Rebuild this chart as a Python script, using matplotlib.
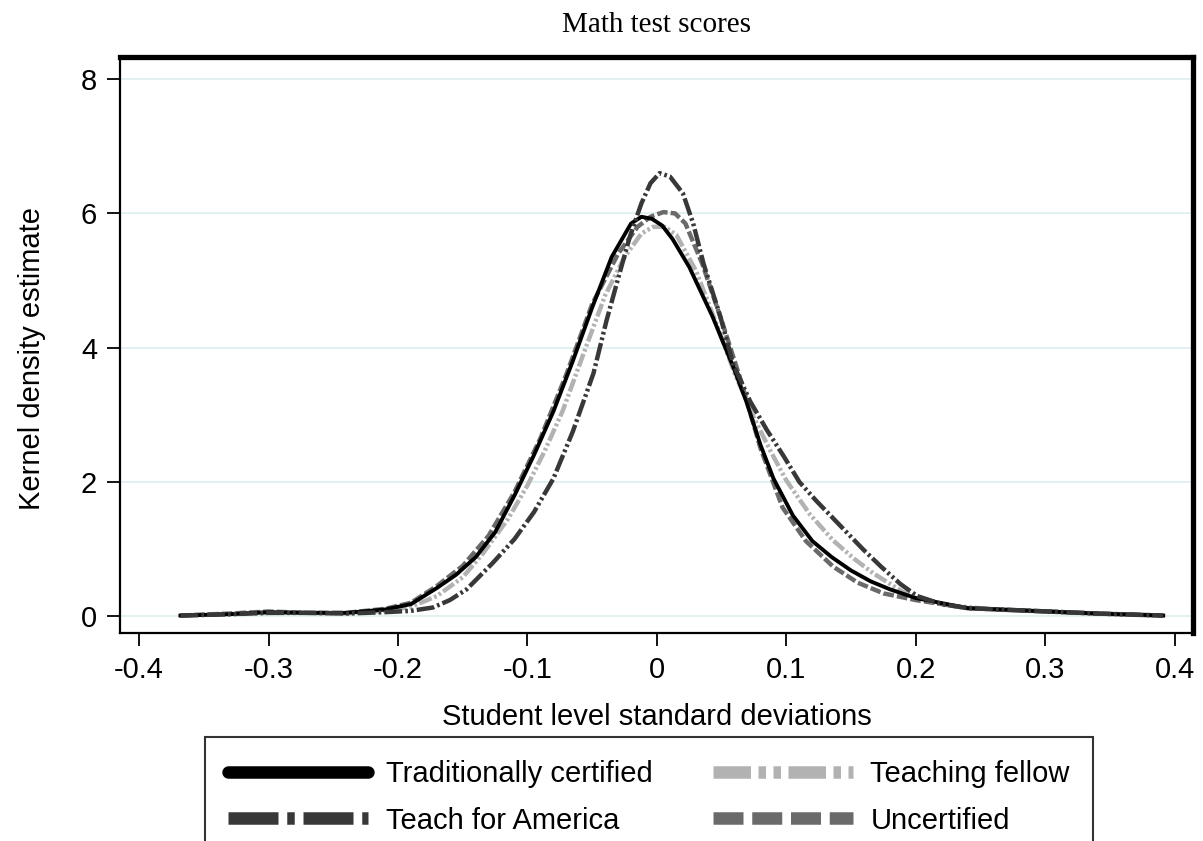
import matplotlib
matplotlib.use("Agg")
import matplotlib.pyplot as plt
from matplotlib.lines import Line2D

# kernel density curves
trad_x = [-0.368, -0.33, -0.30, -0.27, -0.24, -0.21, -0.19, -0.17, -0.155, -0.14, -0.125, -0.11,
          -0.095, -0.08, -0.065, -0.05, -0.035, -0.02, -0.012, -0.004, 0.004, 0.012, 0.025, 0.043,
          0.059, 0.069, 0.08, 0.09, 0.105, 0.12, 0.135, 0.15, 0.165, 0.18, 0.20, 0.24, 0.29, 0.34, 0.391]
trad_y = [0.01, 0.03, 0.06, 0.05, 0.05, 0.10, 0.18, 0.42, 0.62, 0.88, 1.25, 1.80,
          2.40, 3.05, 3.80, 4.60, 5.35, 5.85, 5.95, 5.92, 5.82, 5.62, 5.20, 4.46,
          3.71, 3.20, 2.55, 2.05, 1.50, 1.12, 0.88, 0.68, 0.52, 0.40, 0.27, 0.12, 0.08, 0.04, 0.01]

tfa_x = [-0.368, -0.33, -0.30, -0.27, -0.24, -0.21, -0.19, -0.173, -0.16, -0.147, -0.127, -0.11,
         -0.095, -0.08, -0.065, -0.049, -0.039, -0.029, -0.021, -0.012, -0.005, 0.002, 0.010, 0.020,
         0.028, 0.036, 0.049, 0.059, 0.072, 0.085, 0.098, 0.110, 0.123, 0.136, 0.148, 0.159, 0.173,
         0.188, 0.201, 0.22, 0.24, 0.29, 0.34, 0.391]
tfa_y = [0.01, 0.03, 0.05, 0.05, 0.04, 0.06, 0.08, 0.13, 0.24, 0.40, 0.79, 1.15,
         1.55, 2.05, 2.75, 3.62, 4.40, 5.10, 5.65, 6.15, 6.45, 6.60, 6.55, 6.30,
         5.85, 5.25, 4.46, 3.75, 3.20, 2.77, 2.38, 2.00, 1.72, 1.46, 1.22, 1.00, 0.74,
         0.48, 0.30, 0.18, 0.12, 0.08, 0.04, 0.01]

fellow_x = [-0.368, -0.33, -0.30, -0.27, -0.24, -0.21, -0.19, -0.17, -0.15, -0.135, -0.115, -0.1,
            -0.087, -0.073, -0.055, -0.04, -0.025, -0.012, -0.003, 0.006, 0.015, 0.03, 0.045, 0.06,
            0.075, 0.088, 0.10, 0.118, 0.136, 0.152, 0.167, 0.19, 0.22, 0.26, 0.30, 0.35, 0.391]
fellow_y = [0.01, 0.03, 0.05, 0.05, 0.04, 0.08, 0.14, 0.30, 0.58, 0.92, 1.45, 1.95,
            2.45, 3.05, 4.00, 4.78, 5.35, 5.70, 5.80, 5.80, 5.68, 5.15, 4.40, 3.62,
            2.95, 2.45, 2.02, 1.52, 1.13, 0.86, 0.64, 0.36, 0.17, 0.10, 0.07, 0.03, 0.01]

uncert_x = [-0.368, -0.33, -0.30, -0.27, -0.24, -0.21, -0.19, -0.17, -0.15, -0.13, -0.11, -0.09,
            -0.07, -0.05, -0.03, -0.015, -0.005, 0.005, 0.014, 0.022, 0.035, 0.05, 0.065, 0.08, 0.097,
            0.115, 0.136, 0.155, 0.175, 0.20, 0.24, 0.29, 0.34, 0.391]
uncert_y = [0.01, 0.04, 0.07, 0.05, 0.05, 0.11, 0.20, 0.45, 0.75, 1.20, 1.85, 2.65,
            3.60, 4.65, 5.40, 5.80, 5.95, 6.02, 6.00, 5.85, 5.25, 4.40, 3.50, 2.50, 1.62,
            1.12, 0.74, 0.50, 0.34, 0.24, 0.12, 0.08, 0.04, 0.01]

labels = ["Traditionally certified", "Teaching fellow", "Teach for America", "Uncertified"]
xticks = [-0.4, -0.3, -0.2, -0.1, 0, 0.1, 0.2, 0.3, 0.4]
xticklabels = ["-0.4", "-0.3", "-0.2", "-0.1", "0", "0.1", "0.2", "0.3", "0.4"]
yticks = [0, 2, 4, 6, 8]

plt.rcParams['font.family'] = ['Liberation Sans', 'DejaVu Sans']

fig = plt.figure(figsize=(12.03, 8.41), dpi=100)
ax = fig.add_axes([120/1203, 1-633/841, (1193-120)/1203, (633-57)/841])

styles = {
    "trad": dict(color='black', ls='-'),
    "fellow": dict(color='#b2b2b2', ls=(0, (3, 0.6, 0.6, 0.6, 0.6, 0.6))),
    "tfa": dict(color='#383838', ls=(0, (4, 0.7, 0.6, 0.7, 4, 0.7, 0.6, 0.7, 0.6, 0.7))),
    "uncert": dict(color='#6a6a6a', ls=(0, (2.4, 0.7))),
}

ax.plot(uncert_x, uncert_y, lw=3.2, **styles["uncert"])
ax.plot(fellow_x, fellow_y, lw=3.2, **styles["fellow"])
ax.plot(trad_x, trad_y, lw=2.8, **styles["trad"])
ax.plot(tfa_x, tfa_y, lw=3.2, **styles["tfa"])

ax.set_xlim(-0.4147, 0.414)
ax.set_ylim(-0.25, 8.33)
ax.set_xticks(xticks)
ax.set_xticklabels(xticklabels)
ax.set_yticks(yticks)
ax.grid(axis='y', color='#deedef', lw=1.2)
ax.set_axisbelow(True)
ax.tick_params(axis='both', labelsize=21, length=9.5, width=1.3, pad=7, colors='black')

for side in ['left', 'bottom']:
    ax.spines[side].set_linewidth(1.6)
for side in ['top', 'right']:
    ax.spines[side].set_linewidth(3.8)

ax.set_xlabel("Student level standard deviations", fontsize=21, labelpad=14)
ax.set_ylabel("Kernel density estimate", fontsize=21)
ax.yaxis.set_label_coords((46 - 120)/(1193 - 120), (633 - 358)/(633 - 57))
fig.text(656/1203, 1-25/841, "Math test scores", ha='center', va='center',
         fontsize=21, family='Liberation Serif')

# legend fills row by row in the picture, matplotlib fills by column
handles = [
    Line2D([], [], lw=9, solid_capstyle='round', **styles["trad"]),
    Line2D([], [], lw=9, **styles["tfa"]),
    Line2D([], [], lw=9, **styles["fellow"]),
    Line2D([], [], lw=9, **styles["uncert"]),
]
order = [labels[0], labels[2], labels[1], labels[3]]
leg = fig.legend(handles, order, ncol=2, loc='upper left',
                 bbox_to_anchor=(205/1203, 1-738/841, (1093-205)/1203, 0.001),
                 mode='expand', fontsize=21, frameon=True, fancybox=False,
                 edgecolor='black', borderpad=0.8, handlelength=4.8,
                 handletextpad=0.6, labelspacing=0.62, borderaxespad=0,
                 columnspacing=1.0)
leg.get_frame().set_linewidth(1.5)

fig.savefig("out.png", dpi=100)
